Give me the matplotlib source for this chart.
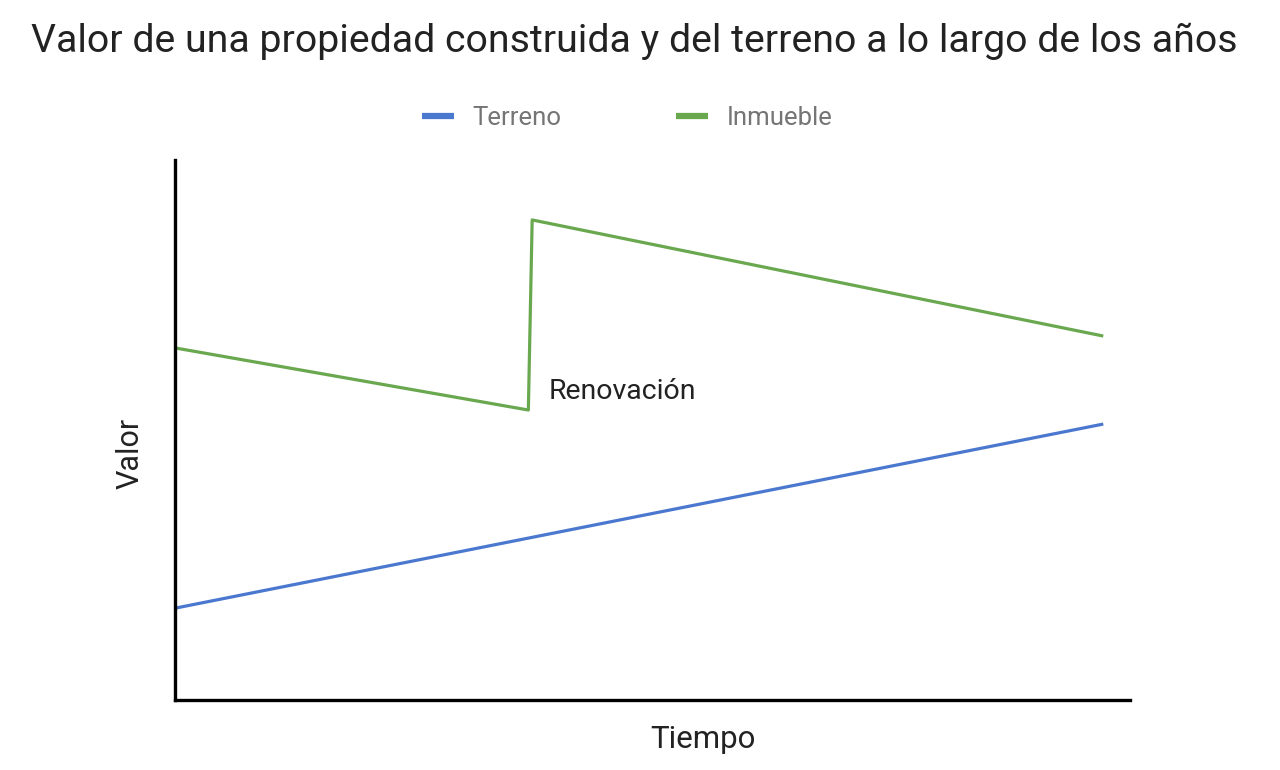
import matplotlib
matplotlib.use("Agg")
import matplotlib.pyplot as plt

plt.rcParams['font.family'] = ['Roboto', 'DejaVu Sans']

tiempo_terreno = [0, 97.2]
valor_terreno = [17.0, 51.1]
tiempo_inmueble = [0, 37.0, 37.4, 97.2]
valor_inmueble = [65.2, 53.7, 88.9, 67.4]

fig = plt.figure(figsize=(12.8, 7.7), dpi=100)
ax = fig.add_axes([175/1280, 1-700/770, 955/1280, 540/770])
ax.plot(tiempo_terreno, valor_terreno, color='#4a78cf', lw=2.3, label='Terreno', solid_capstyle='butt')
ax.plot(tiempo_inmueble, valor_inmueble, color='#6aa84f', lw=2.3, label='Inmueble', solid_capstyle='butt')
ax.set_xlim(0, 100)
ax.set_ylim(0, 100)
ax.set_xticks([]); ax.set_yticks([])
for s in ['top', 'right']:
    ax.spines[s].set_visible(False)
for s in ['left', 'bottom']:
    ax.spines[s].set_linewidth(2.4)
    ax.spines[s].set_color('black')

ax.text(39.1, 57.2, 'Renovación', fontsize=20.5, va='center', ha='left', color='#222222')

fig.text(634/1280, 1-41/770, 'Valor de una propiedad construida y del terreno a lo largo de los años',
         ha='center', va='center', fontsize=28.3, color='#222222')
fig.text(703/1280, 1-740/770, 'Tiempo', ha='center', va='center', fontsize=22.5, color='#222222')
fig.text(130/1280, 1-453/770, 'Valor', ha='center', va='center', rotation=90, fontsize=22, color='#222222')

leg = fig.legend(loc='center', bbox_to_anchor=(627/1280, 1-118/770), ncol=2, frameon=False,
                 fontsize=18.5, handlelength=1.25, handletextpad=0.72, columnspacing=4.45)
for t in leg.get_texts():
    t.set_color('#757575')
for l in leg.get_lines():
    l.set_linewidth(4.5)

fig.savefig('out.png', dpi=100, facecolor='white')
